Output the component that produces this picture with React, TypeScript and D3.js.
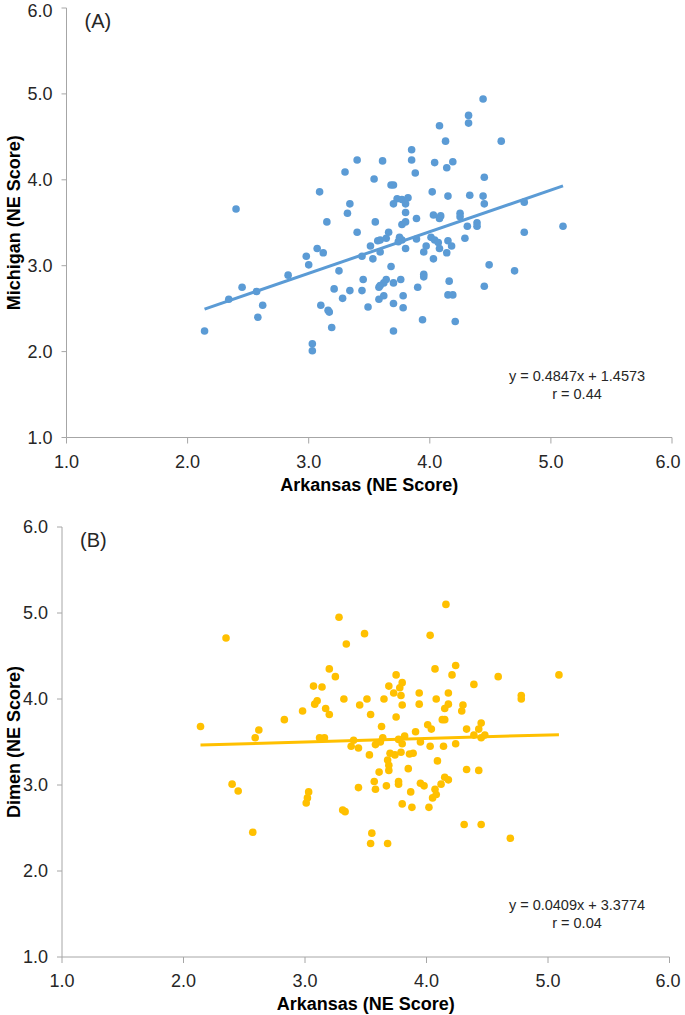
import React from "react";
import * as d3 from "d3";

// ---------- DATA ----------
const ticks = [1, 2, 3, 4, 5, 6];

// Panel A: Arkansas vs Michigan
const arkansasA = [
  3.40, 3.30, 3.54, 3.09, 2.40, 3.34, 3.32, 3.15, 3.55, 3.40, 3.57, 3.51, 3.07, 3.12, 2.98,
  4.44, 4.32, 4.32, 4.08, 4.13, 4.59, 3.85, 3.61, 3.85, 4.04, 4.19, 4.14, 3.88, 4.45, 3.68,
  3.70, 4.02, 4.15, 4.33, 4.44, 3.73, 3.77, 3.82, 3.70, 3.80, 4.45, 4.78, 3.80, 4.03, 4.09,
  4.08, 4.25, 4.25, 3.89, 3.77, 3.80, 4.39, 4.39, 4.31, 5.10, 4.78, 3.66, 3.64, 3.59, 3.75,
  3.77, 3.74, 3.89, 4.01, 4.04, 4.07, 4.15, 4.18, 4.29, 3.97, 4.08, 3.80, 3.95, 4.14, 4.03,
  3.59,
  3.00, 2.83, 2.45, 2.34, 2.57, 2.62, 2.58, 2.14, 3.44, 3.53, 3.25, 3.45, 3.21, 3.34, 3.44,
  3.28, 3.58, 3.58, 3.10, 3.49, 3.16, 3.17, 3.19, 3.03, 3.03,
  3.68, 4.49, 4.70, 3.95, 3.95, 3.64, 3.62, 3.59, 3.70, 3.76, 4.16, 3.90, 4.45, 4.15, 4.19,
  3.62, 3.78, 3.70, 3.78, 3.94, 4.21, 3.70,
];
const michigan = [
  4.23, 4.09, 4.01, 3.86, 3.66, 3.72, 3.61, 3.51, 3.51, 3.39, 3.29, 3.23, 3.20, 3.15, 3.11,
  4.94, 4.75, 4.66, 4.63, 4.45, 4.45, 4.35, 4.22, 4.23, 4.20, 4.21, 4.14, 4.08, 4.03, 3.94,
  3.94, 3.86, 3.81, 3.82, 3.81, 3.78, 3.77, 3.79, 3.72, 3.72, 3.72, 3.74, 3.62, 3.59, 3.58,
  3.55, 3.61, 3.57, 3.55, 3.48, 3.51, 3.50, 3.46, 3.46, 3.46, 3.39, 3.39, 3.32, 3.30, 3.33,
  3.30, 3.28, 3.31, 3.33, 3.30, 3.27, 3.29, 3.23, 3.32, 3.23, 3.20, 3.20, 3.16, 3.15, 3.08,
  3.16,
  3.01, 2.89, 2.75, 2.61, 2.70, 2.54, 2.40, 2.24, 3.11, 3.08, 2.94, 2.84, 2.73, 2.71, 2.71,
  2.62, 2.75, 2.61, 2.54, 2.52, 2.48, 2.46, 2.28, 2.09, 2.01,
  2.99, 3.01, 2.94, 2.90, 2.87, 2.84, 2.80, 2.77, 2.80, 2.84, 2.82, 2.75, 2.76, 2.66, 2.66,
  2.65, 2.65, 2.56, 2.51, 2.37, 2.35, 2.24,
];

// Panel B: Arkansas vs Dimen
const arkansasB = [
  3.28, 2.35, 3.49, 3.34, 3.20, 3.25, 3.07, 3.14, 3.32, 3.51, 3.10, 3.08, 3.45, 3.17, 3.20,
  3.54, 2.98, 2.83, 2.14, 2.62, 2.59, 3.12, 3.16, 3.63, 3.40, 3.38, 3.44, 3.58,
  4.16, 4.03, 4.07, 4.24, 4.21, 3.75, 4.59, 5.09, 4.39, 3.80, 3.78, 3.69, 3.73, 3.79, 3.94,
  4.18, 3.65, 4.08, 4.78, 4.78, 3.80, 3.94, 4.18, 4.15, 4.30, 4.29, 3.75, 4.13, 4.15, 4.01,
  4.04, 4.33, 4.45, 4.43, 3.91, 4.39, 4.45, 4.48, 3.64, 3.62, 3.77, 3.82, 3.80, 3.95, 4.03,
  4.14, 4.24,
  3.53, 3.61, 2.40, 2.45, 3.03, 3.02, 3.01, 3.44, 3.57, 3.58, 3.31, 3.33, 2.57, 3.55, 3.54,
  3.70, 3.74, 3.79, 3.86, 3.89, 3.68, 3.69, 3.69, 3.85, 4.09, 4.33, 4.43, 3.67, 3.77, 3.77,
  3.87, 3.95, 3.98, 4.12, 4.15, 4.18, 4.07, 4.08, 4.05, 3.80, 3.88, 4.02, 4.31, 4.45, 4.69,
  3.68,
];
const dimen = [
  4.95, 4.71, 4.76, 4.64, 4.35, 4.26, 4.15, 4.14, 4.00, 4.00, 3.98, 3.94, 3.93, 3.89, 3.82,
  3.82, 3.86, 3.76, 3.68, 3.64, 3.55, 3.55, 3.55, 3.68, 3.52, 3.45, 3.43, 3.47,
  5.10, 4.74, 4.35, 4.39, 4.28, 4.28, 4.26, 4.28, 4.17, 4.19, 4.13, 4.15, 4.07, 4.04, 4.07,
  4.07, 4.00, 4.00, 4.04, 4.00, 3.93, 3.94, 3.94, 3.89, 3.93, 3.86, 3.79, 3.76, 3.76, 3.70,
  3.65, 3.65, 3.72, 3.65, 3.62, 3.58, 3.55, 3.58, 3.55, 3.50, 3.53, 3.57, 3.48, 3.50, 3.45,
  3.45, 3.48,
  3.35, 3.15, 3.01, 2.93, 2.92, 2.85, 2.79, 2.97, 3.04, 2.95, 2.71, 2.69, 2.45, 2.44, 2.32,
  3.37, 3.35, 3.38, 3.36, 3.37, 3.29, 3.23, 3.17, 3.19, 3.28, 3.18, 3.17, 2.99, 3.04, 3.01,
  2.92, 3.02, 2.99, 3.01, 3.09, 3.06, 2.95, 2.89, 2.85, 2.78, 2.74, 2.74, 2.54, 2.54, 2.38,
  2.32,
];

const fitA = { slope: 0.4847, intercept: 1.4573, r: "0.44", label: "(A)", yTitle: "Michigan (NE Score)" };
const fitB = { slope: 0.0409, intercept: 3.3774, r: "0.04", label: "(B)", yTitle: "Dimen (NE Score)" };
const xTitle = "Arkansas (NE Score)";

// ---------- DRAWING ----------
const FONT = "'Liberation Sans', Arial, sans-serif";
const AXIS = "#A6A6A6";
const TEXT = "#262626";

type PanelProps = {
  xs: number[];
  ys: number[];
  fit: { slope: number; intercept: number; r: string; label: string; yTitle: string };
  color: string;
  x0: number;
  x1: number;
  yTop: number;
  yBot: number;
  eqY: number;
};

function Panel({ xs, ys, fit, color, x0, x1, yTop, yBot, eqY }: PanelProps) {
  const x = d3.scaleLinear().domain([1, 6]).range([x0, x1]);
  const y = d3.scaleLinear().domain([1, 6]).range([yBot, yTop]);
  const fmt = d3.format(".1f");
  const xmin = d3.min(xs) as number;
  const xmax = d3.max(xs) as number;
  const line = d3
    .line<number>()
    .x((d) => x(d))
    .y((d) => y(fit.slope * d + fit.intercept));
  const eq = `y = ${fit.slope}x + ${fit.intercept}`;
  return (
    <g fontFamily={FONT}>
      {/* axes */}
      <line x1={x0} x2={x0} y1={yTop} y2={yBot} stroke={AXIS} strokeWidth={1} />
      <line x1={x0} x2={x1} y1={yBot} y2={yBot} stroke={AXIS} strokeWidth={1} />
      {ticks.map((t) => (
        <g key={"y" + t}>
          <line x1={x0 - 5} x2={x0} y1={y(t)} y2={y(t)} stroke={AXIS} />
          <text
            x={x0 - 14}
            y={Math.max(y(t), 11)}
            dy="0.35em"
            textAnchor="end"
            fontSize={18}
            fill={TEXT}
          >
            {fmt(t)}
          </text>
        </g>
      ))}
      {ticks.map((t) => (
        <g key={"x" + t}>
          <line x1={x(t)} x2={x(t)} y1={yBot} y2={yBot + 6} stroke={AXIS} />
          <text
            x={Math.min(x(t), 668)}
            y={yBot + 24}
            dy="0.35em"
            textAnchor="middle"
            fontSize={18}
            fill={TEXT}
          >
            {fmt(t)}
          </text>
        </g>
      ))}
      {/* titles */}
      <text
        x={(x0 + x1) / 2}
        y={yBot + 47}
        dy="0.35em"
        textAnchor="middle"
        fontSize={18}
        fontWeight="bold"
        fill="#000"
      >
        {xTitle}
      </text>
      <text
        transform={`translate(14,${(yTop + yBot) / 2}) rotate(-90)`}
        dy="0.35em"
        textAnchor="middle"
        fontSize={18}
        fontWeight="bold"
        fill="#000"
      >
        {fit.yTitle}
      </text>
      <text x={x0 + 18} y={yTop + 13} dy="0.35em" fontSize={20} fill={TEXT}>
        {fit.label}
      </text>
      {/* points */}
      {xs.map((v, i) => (
        <circle key={i} cx={x(v)} cy={y(ys[i])} r={3.8} fill={color} />
      ))}
      {/* trend line */}
      <path d={line([xmin, xmax]) || ""} stroke={color} strokeWidth={3} fill="none" />
      {/* equation */}
      <text x={577} y={eqY} dy="0.35em" textAnchor="middle" fontSize={14.5} fill={TEXT}>
        {eq}
      </text>
      <text x={577} y={eqY + 18} dy="0.35em" textAnchor="middle" fontSize={14.5} fill={TEXT}>
        {`r = ${fit.r}`}
      </text>
    </g>
  );
}

export default function App() {
  return (
    <svg
      width={685}
      height={1015}
      style={{ position: "absolute", left: 0, top: 0, background: "#fff" }}
    >
      <rect width={685} height={1015} fill="#fff" />
      <Panel xs={arkansasA} ys={michigan} fit={fitA} color="#5B9BD5" x0={66.5} x1={672} yTop={8} yBot={437.5} eqY={376} />
      <Panel xs={arkansasB} ys={dimen} fit={fitB} color="#FFC000" x0={62} x1={669.5} yTop={527} yBot={957} eqY={905} />
    </svg>
  );
}
